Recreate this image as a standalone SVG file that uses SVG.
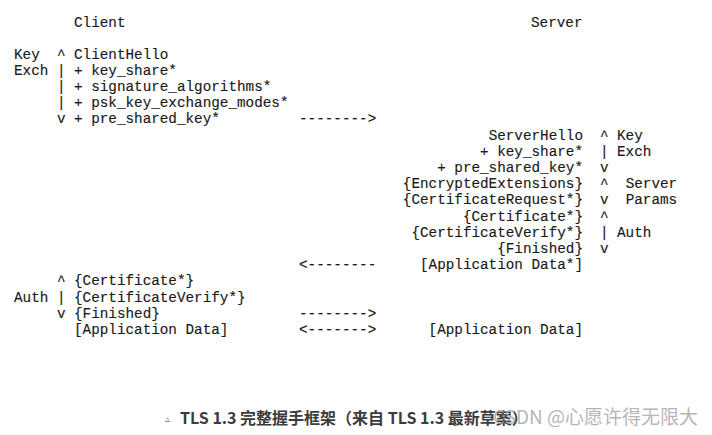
<svg xmlns="http://www.w3.org/2000/svg" width="712" height="435" viewBox="0 0 712 435">
<style>
.m{font-family:"Liberation Mono","DejaVu Sans Mono",monospace;font-size:14.3px;fill:#1a1a1a;stroke:#1a1a1a;stroke-width:0.15;white-space:pre}
.r{text-anchor:end}
.cap{font-family:"Noto Sans CJK SC","Noto Sans",sans-serif;font-size:16px;font-weight:bold;fill:#3c3c3c}
.wm{font-family:"Noto Sans CJK SC","Noto Sans",sans-serif;font-size:19px;fill:#a8a8a8;fill-opacity:0.85}
</style>
<rect width="712" height="435" fill="#fff"/>
<g id="client">
<text class="m" x="74" y="26.5">Client</text>
<text class="m" x="14" y="58.5">Key</text>
<text class="m" x="56.9" y="58.5">^</text>
<text class="m" x="74" y="58.5">ClientHello</text>
<text class="m" x="14" y="74.7">Exch</text>
<text class="m" x="56.9" y="74.7">|</text>
<text class="m" x="74" y="74.7">+ key_share*</text>
<text class="m" x="56.9" y="90.9">|</text>
<text class="m" x="74" y="90.9">+ signature_algorithms*</text>
<text class="m" x="56.9" y="107.1">|</text>
<text class="m" x="74" y="107.1">+ psk_key_exchange_modes*</text>
<text class="m" x="56.9" y="123.3">v</text>
<text class="m" x="74" y="123.3">+ pre_shared_key*</text>
<text class="m" x="56.9" y="285.3">^</text>
<text class="m" x="74" y="285.3">{Certificate*}</text>
<text class="m" x="14" y="301.5">Auth</text>
<text class="m" x="56.9" y="301.5">|</text>
<text class="m" x="74" y="301.5">{CertificateVerify*}</text>
<text class="m" x="56.9" y="317.7">v</text>
<text class="m" x="74" y="317.7">{Finished}</text>
<text class="m" x="74" y="333.9">[Application Data]</text>
</g>
<g id="server">
<text class="m" x="531" y="26.5">Server</text>
<text class="m r" x="583" y="139.5">ServerHello</text>
<text class="m r" x="583" y="155.7">+ key_share*</text>
<text class="m r" x="583" y="171.9">+ pre_shared_key*</text>
<text class="m r" x="583" y="188.1">{EncryptedExtensions}</text>
<text class="m r" x="583" y="204.3">{CertificateRequest*}</text>
<text class="m r" x="583" y="220.5">{Certificate*}</text>
<text class="m r" x="583" y="236.7">{CertificateVerify*}</text>
<text class="m r" x="583" y="252.9">{Finished}</text>
<text class="m r" x="583" y="269.1">[Application Data*]</text>
<text class="m r" x="583" y="333.9">[Application Data]</text>
<text class="m" x="600" y="139.5">^</text>
<text class="m" x="617" y="139.5">Key</text>
<text class="m" x="600" y="155.7">|</text>
<text class="m" x="617" y="155.7">Exch</text>
<text class="m" x="600" y="171.9">v</text>
<text class="m" x="600" y="188.1">^</text>
<text class="m" x="625.7" y="188.1">Server</text>
<text class="m" x="600" y="204.3">v</text>
<text class="m" x="625.7" y="204.3">Params</text>
<text class="m" x="600" y="220.5">^</text>
<text class="m" x="600" y="236.7">|</text>
<text class="m" x="617" y="236.7">Auth</text>
<text class="m" x="600" y="252.9">v</text>
</g>
<g id="connectors">
<text class="m" x="299" y="123.3">--------&gt;</text>
<text class="m" x="299" y="269.1">&lt;--------</text>
<text class="m" x="299" y="317.7">--------&gt;</text>
<text class="m" x="299" y="333.9">&lt;-------&gt;</text>
</g>
<g id="caption">
<text x="165" y="422" font-family="DejaVu Sans,sans-serif" font-size="10" fill="#777">▵</text>
<text class="cap" x="180" y="423.5">TLS 1.3 完整握手框架（来自 TLS 1.3 最新草案）</text>
<text class="wm" x="698" y="423.5" text-anchor="end">CSDN @心愿许得无限大</text>
</g>
</svg>
